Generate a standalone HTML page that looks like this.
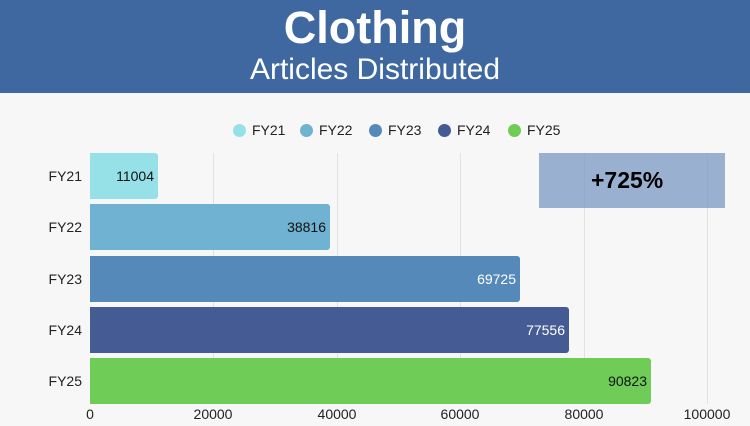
<!DOCTYPE html>
<html><head><meta charset="utf-8"><style>
body{margin:0;width:750px;height:426px;background:#f7f7f7;font-family:"Liberation Sans",sans-serif;position:relative;overflow:hidden}
.hdr{position:absolute;left:0;top:0;width:750px;height:93px;background:#3f67a0;color:#fff;text-align:center}
.t1{position:absolute;top:2px;width:100%;font-size:45px;font-weight:bold}
.t2{position:absolute;top:53px;width:100%;font-size:30px}
.g{position:absolute;top:153px;width:1px;height:251px;background:#e2e2e2}
.bar{position:absolute;left:90px;height:46px;border-radius:0 3px 3px 0;box-sizing:border-box;text-align:right;padding-right:4px;line-height:46px;font-size:14px}
.yl{position:absolute;left:32px;width:50px;text-align:right;font-size:14px;color:#222}
.xl{position:absolute;top:406px;font-size:14px;color:#222;width:80px;text-align:center}
.lg{position:absolute;top:122px;font-size:14px;color:#222;line-height:16px}
.lg i{display:inline-block;width:13px;height:13px;border-radius:50%;vertical-align:-2px;margin-right:6px}
</style></head><body>
<div class="hdr"><div class="t1">Clothing</div><div class="t2">Articles Distributed</div></div>
<div class="lg" style="left:233px"><i style="background:#96e1e8"></i>FY21</div>
<div class="lg" style="left:300px"><i style="background:#70b2d1"></i>FY22</div>
<div class="lg" style="left:369px"><i style="background:#5489b9"></i>FY23</div>
<div class="lg" style="left:438px"><i style="background:#445b94"></i>FY24</div>
<div class="lg" style="left:508px"><i style="background:#6fcc56"></i>FY25</div>
<div class="g" style="left:213px"></div><div class="g" style="left:337px"></div><div class="g" style="left:460px"></div><div class="g" style="left:584px"></div><div class="g" style="left:707px"></div>
<div class="bar" style="top:153px;width:68px;background:#96e1e8;color:#111">11004</div>
<div class="bar" style="top:204px;width:240px;background:#70b2d1;color:#111">38816</div>
<div class="bar" style="top:256px;width:430px;background:#5489b9;color:#fff">69725</div>
<div class="bar" style="top:307px;width:479px;background:#445b94;color:#fff">77556</div>
<div class="bar" style="top:358px;width:561px;background:#6fcc56;color:#111">90823</div>
<div style="position:absolute;left:539px;top:153px;width:186px;height:55px;background:rgba(122,152,196,0.75);font-weight:bold;font-size:23px;line-height:55px;text-indent:52px;color:#000">+725%</div>
<div class="yl" style="top:168px">FY21</div><div class="yl" style="top:219px">FY22</div><div class="yl" style="top:271px">FY23</div><div class="yl" style="top:322px">FY24</div><div class="yl" style="top:373px">FY25</div>
<div class="xl" style="left:50px">0</div><div class="xl" style="left:173px">20000</div><div class="xl" style="left:297px">40000</div><div class="xl" style="left:420px">60000</div><div class="xl" style="left:544px">80000</div><div class="xl" style="left:667px">100000</div>
</body></html>
